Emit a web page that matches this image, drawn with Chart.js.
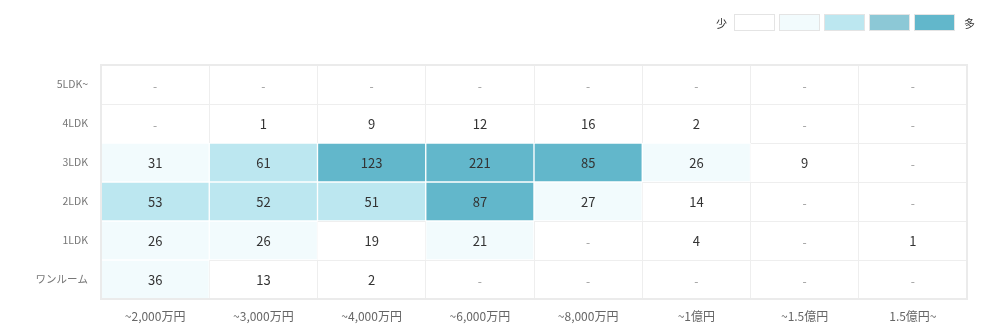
<!DOCTYPE html>
<html lang="ja">
<head>
<meta charset="utf-8">
<script src="https://cdn.jsdelivr.net/npm/chart.js@4"></script>
<style>
    body { margin: 0; background: #fff; }
    #wrap { position: relative; width: 1000px; height: 335px; }
    #heat-legend {
        position: absolute; top: 14px; left: 714px;
        display: flex; align-items: center;
        font-family: "Noto Sans CJK JP", sans-serif; font-size: 11px; color: #333;
    }
    #heat-legend span.box {
        display: inline-block; width: 39px; height: 15px;
        border: 1px solid #e4e4e4; margin-right: 4px;
    }
    #heat-legend .txt { margin: 0 7px 0 2px; }
    #heat-legend .txt.end { margin: 0 0 0 5px; }
</style>
</head>
<body>
<div id="wrap">
    <canvas id="heat-chart" width="1000" height="335"></canvas>
    <div id="heat-legend"></div>
</div>
<script>
// Price bands (columns) and layouts (rows, top to bottom)
const priceLabels = ['~2,000万円', '~3,000万円', '~4,000万円', '~6,000万円', '~8,000万円', '~1億円', '~1.5億円', '1.5億円~'];
const rowLabels = ['5LDK~', '4LDK', '3LDK', '2LDK', '1LDK', 'ワンルーム'];

// Counts per layout, null = no listings
const counts5LDK = [null, null, null, null, null, null, null, null];
const counts4LDK = [null, 1, 9, 12, 16, 2, null, null];
const counts3LDK = [31, 61, 123, 221, 85, 26, 9, null];
const counts2LDK = [53, 52, 51, 87, 27, 14, null, null];
const counts1LDK = [26, 26, 19, 21, null, 4, null, 1];
const countsOneRoom = [36, 13, 2, null, null, null, null, null];
const countRows = [counts5LDK, counts4LDK, counts3LDK, counts2LDK, counts1LDK, countsOneRoom];

// Colour scale: 少 -> 多
const levelColors = ['#ffffff', '#f2fbfd', '#bce7f0', '#8cc8d6', '#62b7cb'];
const levelMins = [0, 20, 50, 70, 80];

const FONT = '"Noto Sans CJK JP", "Noto Sans", sans-serif';

function levelOf(v) {
    let lv = 0;
    levelMins.forEach((m, i) => { if (v >= m) lv = i; });
    return lv;
}

// Legend boxes
const legendEl = document.getElementById('heat-legend');
legendEl.innerHTML = '<span class="txt">少</span>' +
    levelColors.map(c => `<span class="box" style="background:${c}"></span>`).join('') +
    '<span class="txt end">多</span>';

// Writes the count (or a dash) in the middle of each cell
const cellText = {
    id: 'cellText',
    afterDatasetsDraw(chart) {
        const ctx = chart.ctx;
        ctx.save();
        ctx.textAlign = 'center';
        ctx.textBaseline = 'middle';
        chart.data.datasets.forEach((ds, di) => {
            const meta = chart.getDatasetMeta(di);
            meta.data.forEach((bar, i) => {
                const v = ds.counts[i];
                const y = (bar.y + bar.base) / 2;
                if (v == null) {
                    ctx.font = '12px ' + FONT;
                    ctx.fillStyle = '#9a9a9a';
                    ctx.fillText('-', bar.x, y + 2);
                } else {
                    ctx.font = '13px ' + FONT;
                    ctx.fillStyle = '#333';
                    ctx.fillText(v, bar.x, y + 1);
                }
            });
        });
        ctx.restore();
    }
};

// Outer frame of the grid
const gridFrame = {
    id: 'gridFrame',
    afterDatasetsDraw(chart) {
        const a = chart.chartArea;
        const ctx = chart.ctx;
        ctx.save();
        ctx.strokeStyle = '#ebebeb';
        ctx.lineWidth = 2;
        ctx.strokeRect(a.left, a.top, a.right - a.left, a.bottom - a.top);
        ctx.restore();
    }
};

const datasets = countRows.map((row, i) => ({
    label: rowLabels[i],
    counts: row,
    data: row.map(() => [rowLabels.length - 1 - i, rowLabels.length - i]),
    backgroundColor: row.map(v => (v == null || levelOf(v) === 0) ? 'rgba(0,0,0,0)' : levelColors[levelOf(v)]),
    borderColor: '#ffffff',
    borderWidth: row.map(v => (v == null || levelOf(v) === 0) ? 0 : 1),
    borderSkipped: false,
    yAxisID: 'yv',
    barPercentage: 1,
    categoryPercentage: 1,
    grouped: false
}));

new Chart(document.getElementById('heat-chart').getContext('2d'), {
    type: 'bar',
    data: { labels: priceLabels, datasets: datasets },
    options: {
        responsive: false,
        animation: false,
        layout: { padding: { top: 65, right: 33, left: 0, bottom: 0 } },
        plugins: {
            legend: { display: false },
            tooltip: { enabled: false }
        },
        scales: {
            x: {
                offset: true,
                grid: { offset: true, color: '#eeeeee', drawTicks: false },
                border: { display: false },
                ticks: {
                    color: '#666',
                    padding: 10,
                    font: { family: FONT, size: 12 }
                },
                afterFit: s => { s.height = 36; }
            },
            y: {
                type: 'category',
                labels: rowLabels,
                offset: true,
                grid: { offset: true, color: '#eeeeee', drawTicks: false },
                border: { display: false },
                ticks: {
                    color: '#777',
                    padding: 13,
                    font: { family: FONT, size: 10.5 }
                },
                afterFit: s => { s.width = 101; }
            },
            yv: {
                type: 'linear',
                display: false,
                min: 0,
                max: rowLabels.length
            }
        }
    },
    plugins: [cellText, gridFrame]
});
</script>
</body>
</html>
